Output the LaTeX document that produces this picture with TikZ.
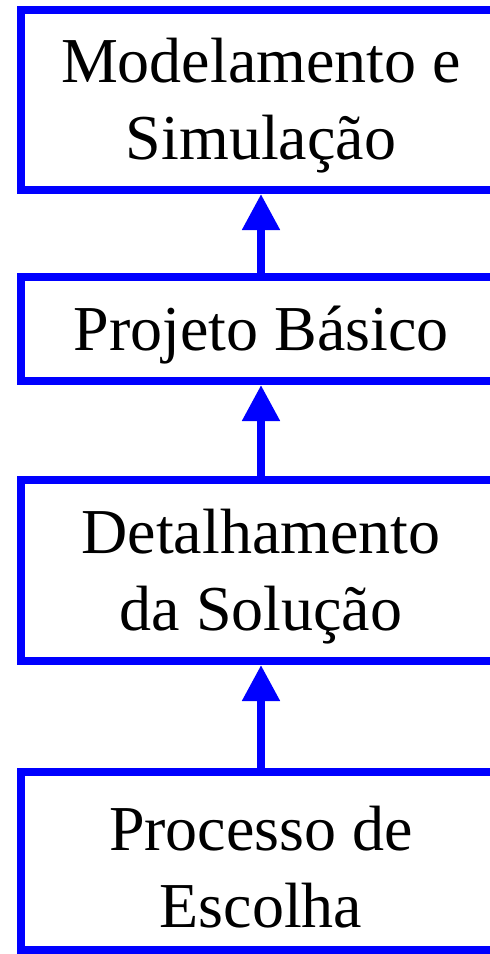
\documentclass[tikz,border=0pt]{standalone}
\usepackage{fontspec}
\setmainfont{Liberation Serif}
\usetikzlibrary{arrows.meta}
\definecolor{boxblue}{RGB}{0,0,255}
\tikzset{
  stagebox/.style={draw=boxblue, line width=8pt, rectangle, minimum width=481pt,
    align=center, inner sep=0pt},
  stagetext/.style={align=center, inner sep=0pt, yshift=-6pt, font=\fontsize{64}{77}\selectfont},
  uparrow/.style={draw=boxblue, line width=8pt, -{Triangle[length=36pt,width=36pt]}}
}
\begin{document}
\begin{tikzpicture}[x=1pt,y=1pt]
\useasboundingbox (0,0) rectangle (490,-954);
\clip (0,0) rectangle (490,-954);
\node[stagebox, minimum height=180pt, label={[stagetext]center:Modelamento e\\Simulação}] (m) at (261,-100) {};
\node[stagebox, minimum height=104pt, label={[stagetext]center:Projeto Básico}] (p) at (261,-329) {};
\node[stagebox, minimum height=181pt, label={[stagetext]center:Detalhamento\\da Solução}] (d) at (261,-570.5) {};
\node[stagebox, minimum height=178pt, label={[stagetext]center:Processo de\\Escolha}] (e) at (261,-861) {};
\draw[uparrow] (p.north) -- (m.south);
\draw[uparrow] (d.north) -- (p.south);
\draw[uparrow] (e.north) -- (d.south);
\end{tikzpicture}
\end{document}
